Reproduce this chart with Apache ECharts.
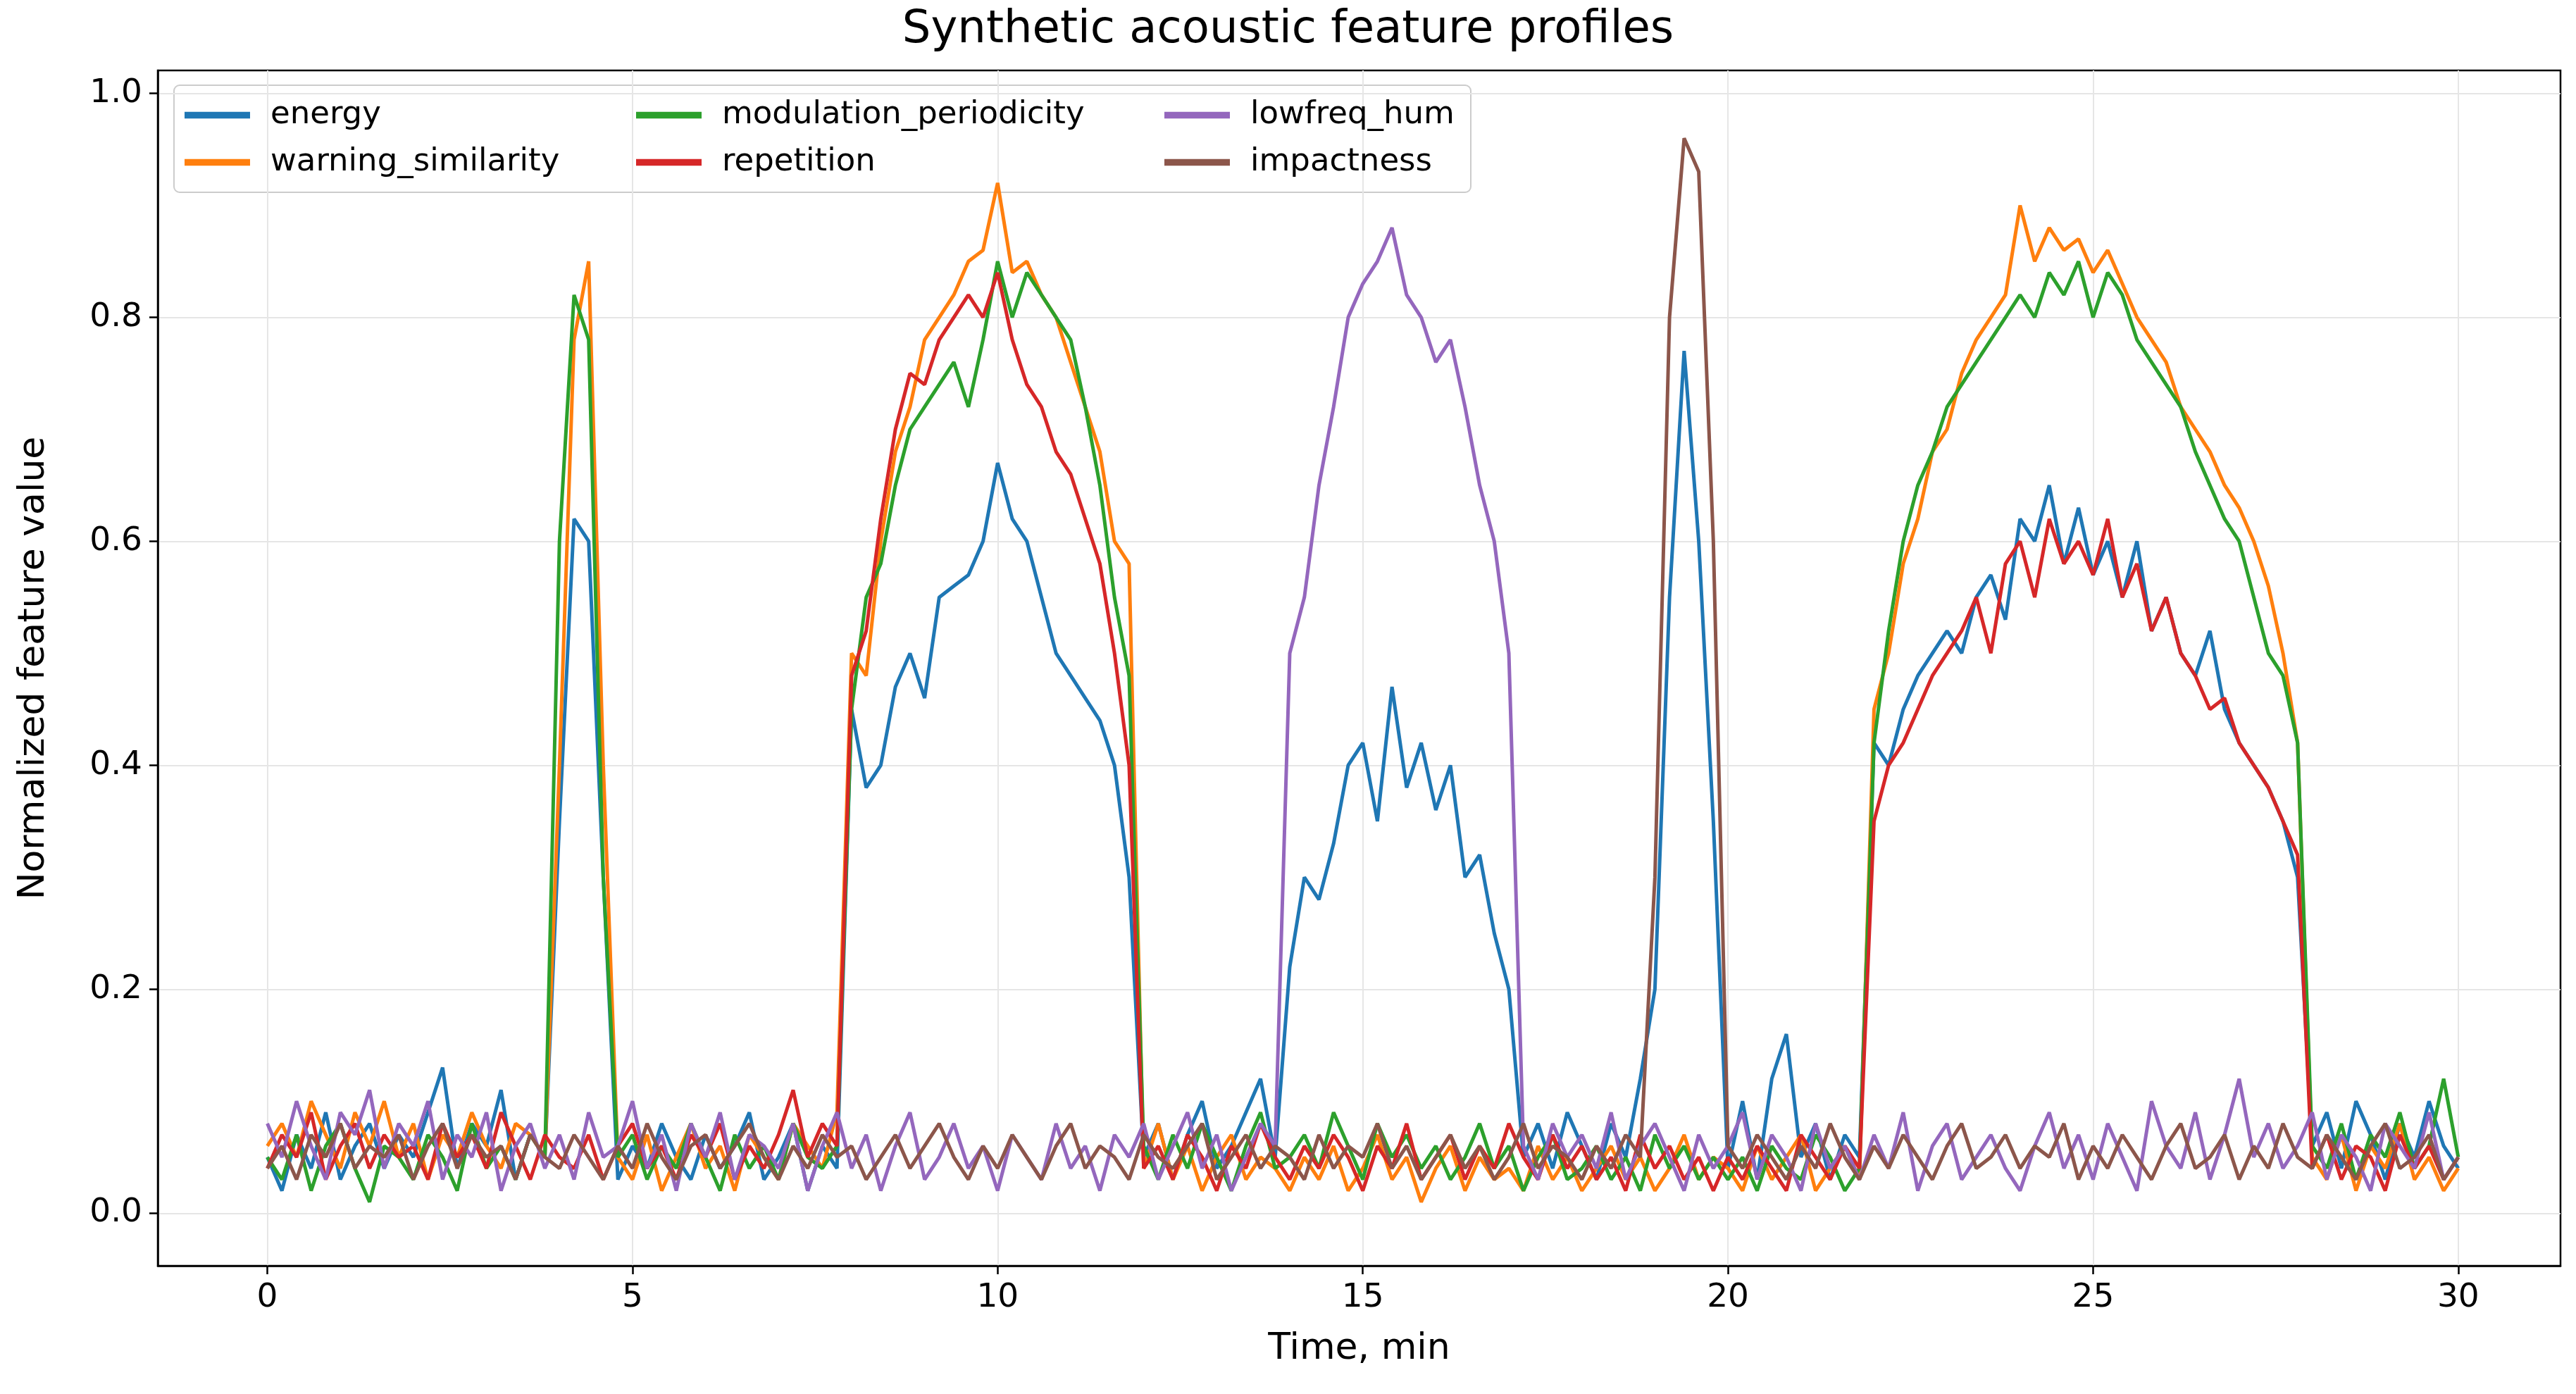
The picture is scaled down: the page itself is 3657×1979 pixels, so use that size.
<!DOCTYPE html>
<html><head><meta charset="utf-8">
<script src="https://cdn.jsdelivr.net/npm/echarts@6/dist/echarts.min.js"></script>
<style>html,body{margin:0;background:#fff}#c{width:3657px;height:1979px}</style>
</head><body><div id="c"></div>
<script>
const timeStep = 0.2;
const xTicks = [0,5,10,15,20,25,30];
const yTicks = [0,0.2,0.4,0.6,0.8,1.0];
const seriesNames = ['energy','warning_similarity','modulation_periodicity','repetition','lowfreq_hum','impactness'];
const energy = [
.05,.02,.07,.04,.09,.03,.06,.08,.04,.07,
.05,.09,.13,.04,.08,.06,.11,.03,.07,.05,
.35,.62,.6,.3,.03,.06,.04,.08,.05,.03,
.07,.04,.06,.09,.03,.05,.08,.02,.06,.04,
.45,.38,.4,.47,.5,.46,.55,.56,.57,.6,
.67,.62,.6,.55,.5,.48,.46,.44,.4,.3,
.05,.08,.03,.07,.1,.04,.06,.09,.12,.05,
.22,.3,.28,.33,.4,.42,.35,.47,.38,.42,
.36,.4,.3,.32,.25,.2,.05,.08,.04,.09,
.06,.03,.08,.05,.12,.2,.55,.77,.6,.35,
.04,.1,.03,.12,.16,.05,.08,.03,.07,.05,
.42,.4,.45,.48,.5,.52,.5,.55,.57,.53,
.62,.6,.65,.58,.63,.57,.6,.55,.6,.52,
.55,.5,.48,.52,.45,.42,.4,.38,.35,.3,
.06,.09,.04,.1,.07,.03,.08,.05,.1,.06,.04];
const warning_similarity = [
.06,.08,.05,.1,.07,.04,.09,.06,.1,.05,
.08,.03,.07,.05,.09,.06,.04,.08,.07,.05,
.4,.78,.85,.4,.05,.03,.07,.02,.05,.08,
.04,.06,.02,.07,.05,.03,.08,.06,.04,.09,
.5,.48,.6,.68,.72,.78,.8,.82,.85,.86,
.92,.84,.85,.82,.8,.76,.72,.68,.6,.58,
.04,.08,.03,.06,.02,.05,.07,.03,.05,.04,
.02,.05,.03,.06,.02,.04,.07,.03,.05,.01,
.04,.06,.02,.05,.03,.04,.02,.06,.03,.05,
.02,.04,.06,.03,.05,.02,.04,.07,.03,.05,
.04,.02,.06,.03,.05,.07,.02,.04,.06,.03,
.45,.5,.58,.62,.68,.7,.75,.78,.8,.82,
.9,.85,.88,.86,.87,.84,.86,.83,.8,.78,
.76,.72,.7,.68,.65,.63,.6,.56,.5,.42,
.05,.03,.07,.02,.06,.04,.08,.03,.05,.02,.04];
const modulation_periodicity = [
.05,.03,.07,.02,.06,.08,.04,.01,.06,.05,
.03,.07,.05,.02,.08,.04,.06,.03,.07,.05,
.6,.82,.78,.3,.05,.07,.03,.06,.04,.08,
.05,.02,.07,.04,.06,.03,.08,.05,.04,.06,
.45,.55,.58,.65,.7,.72,.74,.76,.72,.78,
.85,.8,.84,.82,.8,.78,.72,.65,.55,.48,
.06,.03,.07,.04,.08,.05,.02,.06,.09,.04,
.05,.07,.04,.09,.06,.03,.08,.05,.07,.04,
.06,.03,.05,.08,.04,.06,.02,.05,.07,.03,
.04,.06,.03,.05,.02,.07,.04,.06,.03,.05,
.03,.05,.02,.06,.04,.03,.07,.05,.02,.04,
.42,.52,.6,.65,.68,.72,.74,.76,.78,.8,
.82,.8,.84,.82,.85,.8,.84,.82,.78,.76,
.74,.72,.68,.65,.62,.6,.55,.5,.48,.42,
.06,.04,.08,.03,.07,.05,.09,.04,.06,.12,.05];
const repetition = [
.04,.07,.05,.09,.03,.06,.08,.04,.07,.05,
.06,.03,.08,.05,.07,.04,.09,.06,.03,.07,
.05,.04,.07,.03,.06,.08,.04,.06,.03,.07,
.05,.08,.03,.06,.04,.07,.11,.05,.08,.06,
.48,.52,.62,.7,.75,.74,.78,.8,.82,.8,
.84,.78,.74,.72,.68,.66,.62,.58,.5,.4,
.04,.06,.03,.07,.05,.02,.06,.04,.08,.05,
.03,.06,.04,.07,.05,.02,.06,.04,.08,.03,
.05,.07,.03,.06,.04,.08,.05,.03,.07,.04,
.06,.03,.05,.02,.07,.04,.06,.03,.05,.02,
.05,.03,.06,.04,.02,.07,.05,.03,.06,.04,
.35,.4,.42,.45,.48,.5,.52,.55,.5,.58,
.6,.55,.62,.58,.6,.57,.62,.55,.58,.52,
.55,.5,.48,.45,.46,.42,.4,.38,.35,.32,
.04,.07,.03,.06,.05,.02,.07,.04,.06,.03,.05];
const lowfreq_hum = [
.08,.05,.1,.06,.03,.09,.07,.11,.04,.08,
.06,.1,.03,.07,.05,.09,.02,.06,.08,.04,
.07,.03,.09,.05,.06,.1,.04,.07,.02,.08,
.05,.09,.03,.07,.06,.04,.08,.02,.06,.09,
.04,.07,.02,.06,.09,.03,.05,.08,.04,.06,
.02,.07,.05,.03,.08,.04,.06,.02,.07,.05,
.08,.03,.06,.09,.04,.07,.02,.05,.08,.06,
.5,.55,.65,.72,.8,.83,.85,.88,.82,.8,
.76,.78,.72,.65,.6,.5,.06,.03,.08,.05,
.07,.04,.09,.03,.06,.08,.05,.02,.07,.04,
.06,.09,.03,.07,.05,.02,.08,.04,.06,.03,
.07,.04,.09,.02,.06,.08,.03,.05,.07,.04,
.02,.06,.09,.04,.07,.03,.08,.05,.02,.1,
.06,.04,.09,.03,.07,.12,.05,.08,.04,.06,
.09,.03,.07,.05,.02,.08,.06,.04,.09,.03,.05];
const impactness = [
.04,.06,.03,.07,.05,.08,.04,.06,.05,.07,
.03,.06,.08,.04,.07,.05,.06,.03,.07,.05,
.04,.07,.05,.03,.06,.04,.08,.05,.03,.06,
.07,.04,.06,.08,.05,.03,.06,.04,.07,.05,
.06,.03,.05,.07,.04,.06,.08,.05,.03,.06,
.04,.07,.05,.03,.06,.08,.04,.06,.05,.03,
.07,.05,.04,.06,.08,.03,.05,.07,.04,.06,
.05,.03,.07,.04,.06,.05,.08,.04,.06,.03,
.05,.07,.04,.06,.03,.05,.08,.04,.06,.05,
.03,.06,.04,.07,.05,.3,.8,.96,.93,.6,
.06,.04,.07,.05,.03,.06,.04,.08,.05,.03,
.06,.04,.07,.05,.03,.06,.08,.04,.05,.07,
.04,.06,.05,.08,.03,.06,.04,.07,.05,.03,
.06,.08,.04,.05,.07,.03,.06,.04,.08,.05,
.04,.07,.05,.03,.06,.08,.04,.05,.07,.03,.05];
const allData = [energy,warning_similarity,modulation_periodicity,repetition,lowfreq_hum,impactness];
const colors = ['#1f77b4','#ff7f0e','#2ca02c','#d62728','#9467bd','#8c564b'];

const F = 'DejaVu Sans';
const series = seriesNames.map((n,k)=>({
  name:n, type:'line', symbol:'none', smooth:false,
  lineStyle:{width:5,color:colors[k]}, itemStyle:{color:colors[k]},
  data: allData[k].map((v,i)=>[+(i*timeStep).toFixed(2), v])
}));
const legendBase = {orient:'vertical', top:136, itemWidth:93, itemHeight:30, itemGap:22,
  textStyle:{fontFamily:F,fontSize:45,color:'#000',padding:[0,0,0,24]}, icon:'path://M0,0 L10,0 L10,1 L0,1 Z'};
const axisLine = {show:true, onZero:false, lineStyle:{color:'#000',width:2.5}};
const chart = echarts.init(document.getElementById('c'));
chart.setOption({
  backgroundColor:'#fff',
  animation:false,
  title:{text:'Synthetic acoustic feature profiles', left:'center', top:6,
    textStyle:{fontFamily:F,fontSize:64,fontWeight:'normal',color:'#000'}},
  legend:[
    Object.assign({left:257, data:['energy','warning_similarity']},legendBase),
    Object.assign({left:898, data:['modulation_periodicity','repetition']},legendBase),
    Object.assign({left:1648, data:['lowfreq_hum','impactness']},legendBase)
  ],
  graphic:[{type:'rect', shape:{x:247,y:121,width:1841,height:152,r:8},
    style:{fill:'rgba(255,255,255,0.8)',stroke:'#ccc',lineWidth:2}, z:-1}],
  grid:{left:224, right:22, top:100, bottom:182, show:true, borderColor:'#000', borderWidth:2.5},
  xAxis:{type:'value', min:-1.5, max:31.4, name:'Time, min', nameLocation:'middle', nameGap:92,
    nameTextStyle:{fontFamily:F,fontSize:52,color:'#000'},
    axisLine,
    axisTick:{show:true, length:12, lineStyle:{color:'#000',width:2.5}, customValues:xTicks},
    axisLabel:{fontFamily:F,fontSize:47,color:'#000',margin:22, customValues:xTicks},
    splitLine:{show:true, lineStyle:{color:'#e6e6e6',width:2}}},
  yAxis:{type:'value', min:-0.047, max:1.0205, name:'Normalized feature value', nameLocation:'middle', nameGap:150,
    nameTextStyle:{fontFamily:F,fontSize:52,color:'#000'},
    axisLine,
    axisTick:{show:true, length:12, lineStyle:{color:'#000',width:2.5}, customValues:yTicks},
    axisLabel:{fontFamily:F,fontSize:47,color:'#000',margin:22, customValues:yTicks, formatter:v=>v.toFixed(1)},
    splitLine:{show:true, lineStyle:{color:'#e6e6e6',width:2}}},
  series
});
</script></body></html>
